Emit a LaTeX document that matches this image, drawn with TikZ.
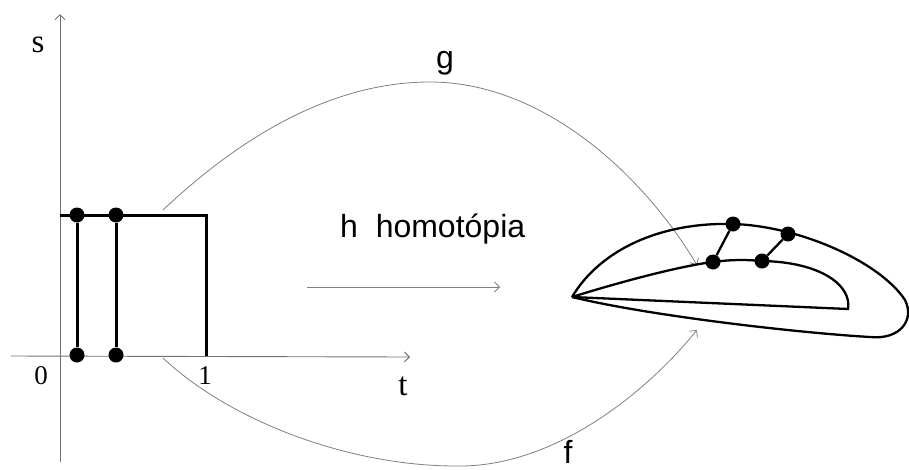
\documentclass[tikz,border=0pt]{standalone}
\usepackage{fontspec}
\setmainfont{Liberation Serif}
\setsansfont{Liberation Sans}
\usetikzlibrary{arrows.meta}
\tikzset{
  axis/.style={draw=black!55, line width=0.9pt, -{Straight Barb[length=5pt,width=10pt]}},
  mapcurve/.style={draw=black!50, line width=0.8pt, -{Straight Barb[length=5pt,width=10pt]}},
  thickline/.style={draw=black, line width=3pt},
  shapeline/.style={draw=black, line width=2.3pt},
  blob/.style={circle, fill=black, inner sep=0pt, minimum size=15pt},
  serlabel/.style={font=\fontsize{33}{36}\selectfont, inner sep=0pt, anchor=base},
  digitlabel/.style={font=\fontsize{27}{30}\selectfont, inner sep=0pt, anchor=base},
  sanslabel/.style={font=\sffamily\fontsize{32}{36}\selectfont, inner sep=0pt, anchor=base}
}
\begin{document}
\begin{tikzpicture}[x=1pt,y=-1pt]
\useasboundingbox (0,0) rectangle (909,469);
\fill[white] (0,0) rectangle (909,469);
% axes
\coordinate (sbot) at (60,462);
\coordinate (stop) at (60,14);
\coordinate (tleft) at (11,356);
\coordinate (tright) at (410,357);
\draw[axis] (sbot) -- (stop);
\draw[axis] (tleft) -- (tright);
\node[serlabel] (slab) at (38,52) {s};
\node[digitlabel] (zero) at (41,384) {0};
\node[digitlabel] (one) at (205,384) {1};
\node[serlabel] (tlab) at (403,395) {t};
% square
\coordinate (a0) at (60,215);
\coordinate (a1) at (206,215);
\coordinate (a2) at (206,356);
\draw[thickline] (a0) -- (a1) -- (a2);
\node[blob] (p1) at (77,215) {};
\node[blob] (p2) at (116,215) {};
\node[blob] (q1) at (77,355) {};
\node[blob] (q2) at (116,355) {};
\draw[thickline] (p1) -- (q1);
\draw[thickline] (p2) -- (q2);
% maps
\coordinate (gs) at (163,210);
\coordinate (gpk) at (430,82);
\coordinate (ge) at (697,265);
\coordinate (fs) at (163,358);
\coordinate (flow) at (460,466);
\coordinate (fe) at (697,330);
\draw[mapcurve] (gs) .. controls (250,128) and (340,82) .. (gpk) .. controls (540,82) and (640,170) .. (ge);
\draw[mapcurve] (fs) .. controls (230,421) and (350,467) .. (flow) .. controls (550,466) and (640,400) .. (fe);
\node[sanslabel] (glab) at (445,68) {g};
\node[sanslabel] (flab) at (568,463) {f};
\coordinate (hs) at (307,287);
\coordinate (he) at (500,287);
\draw[mapcurve] (hs) -- (he);
\node[sanslabel, anchor=base west] (hlab) at (340,237) {h\ \ homotópia};
% right shape
\coordinate (tip) at (572,297);
\coordinate (o1) at (733,224);
\coordinate (o2) at (788,234);
\coordinate (i1) at (713,262);
\coordinate (i2) at (762,261);
\draw[shapeline] (tip) .. controls (600,250) and (660,222) .. (o1)
  .. controls (800,226) and (880,262) .. (905,300)
  .. controls (915,320) and (900,340) .. (870,337)
  .. controls (800,333) and (650,316) .. (tip);
\draw[shapeline] (tip) .. controls (620,282) and (680,266) .. (i1)
  .. controls (735,259) and (750,260) .. (i2)
  .. controls (820,262) and (852,285) .. (848,309) -- (tip);
\node[blob] (d1) at (o1) {};
\node[blob] (d2) at (o2) {};
\node[blob] (d3) at (i1) {};
\node[blob] (d4) at (i2) {};
\draw[shapeline] (d1) -- (d3);
\draw[shapeline] (d2) -- (d4);
\end{tikzpicture}
\end{document}
